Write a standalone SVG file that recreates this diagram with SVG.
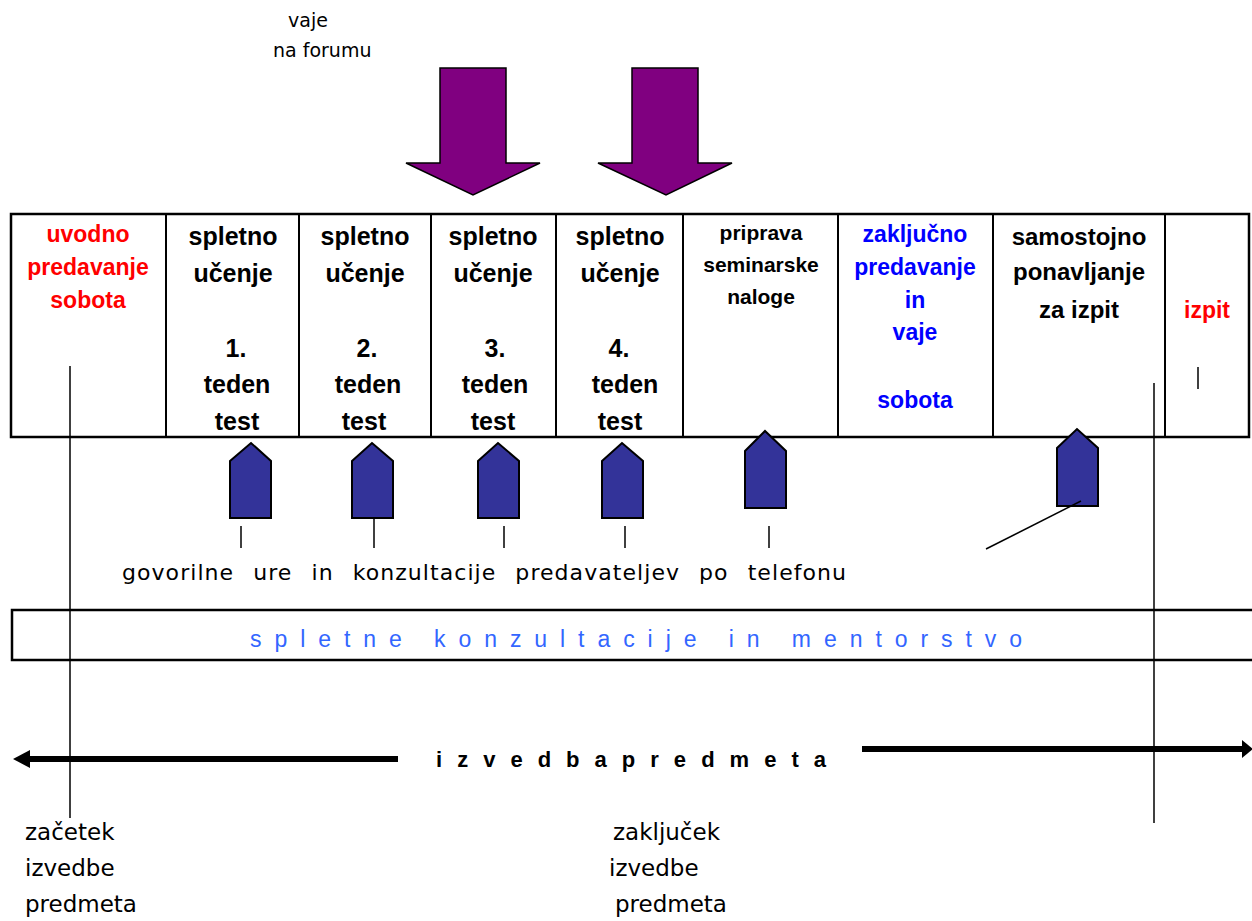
<svg xmlns="http://www.w3.org/2000/svg" width="1252" height="921" viewBox="0 0 1252 921">
  <style>
    .cell { fill: none; stroke: #000; stroke-width: 2.5; }
    .div { stroke: #000; stroke-width: 2; }
    .hd { font-family: "Liberation Sans", Arial, sans-serif; font-weight: bold; text-anchor: middle; }
    .b25 { font-size: 25px; fill: #000; }
    .red { font-size: 23px; fill: #ff0000; }
    .blue { font-size: 23px; fill: #0000ff; }
    .plain { font-family: "DejaVu Sans", Verdana, sans-serif; fill: #000; }
    .house { fill: #333399; stroke: #000; stroke-width: 2; stroke-linejoin: miter; }
    .down { fill: #800080; stroke: #000; stroke-width: 1.5; }
    .thin { stroke: #000; stroke-width: 1.5; fill: none; }
    .thick { stroke: #000; stroke-width: 6; fill: none; }
  </style>

  <!-- forum exercise label and the two downward arrows -->
  <g id="forum-label">
    <text class="plain" font-size="19" x="288" y="27">vaje</text>
    <text class="plain" font-size="19" x="273" y="57">na forumu</text>
  </g>
  <g id="forum-arrow-3">
    <polygon class="down" points="440,68 506,68 506,163 540,163 473,195 406,163 440,163"/>
  </g>
  <g id="forum-arrow-4">
    <polygon class="down" points="632,68 698,68 698,163 732,163 666,195 598,163 632,163"/>
  </g>

  <!-- timeline table -->
  <g id="timeline">
    <rect class="cell" x="11" y="214" width="1238" height="223"/>
    <line class="div" x1="166" y1="214" x2="166" y2="437"/>
    <line class="div" x1="299" y1="214" x2="299" y2="437"/>
    <line class="div" x1="431" y1="214" x2="431" y2="437"/>
    <line class="div" x1="556" y1="214" x2="556" y2="437"/>
    <line class="div" x1="683" y1="214" x2="683" y2="437"/>
    <line class="div" x1="838" y1="214" x2="838" y2="437"/>
    <line class="div" x1="993" y1="214" x2="993" y2="437"/>
    <line class="div" x1="1165" y1="214" x2="1165" y2="437"/>
  </g>

  <g id="cell-uvodno">
    <text class="hd red" x="88" y="242">uvodno</text>
    <text class="hd red" x="88" y="275">predavanje</text>
    <text class="hd red" x="88" y="308">sobota</text>
  </g>
  <g id="cell-teden-1">
    <text class="hd b25" x="233" y="245">spletno</text>
    <text class="hd b25" x="233" y="282">učenje</text>
    <text class="hd b25" x="236" y="357">1.</text>
    <text class="hd b25" x="237" y="393">teden</text>
    <text class="hd b25" x="237" y="430">test</text>
  </g>
  <g id="cell-teden-2">
    <text class="hd b25" x="365" y="245">spletno</text>
    <text class="hd b25" x="365" y="282">učenje</text>
    <text class="hd b25" x="367" y="357">2.</text>
    <text class="hd b25" x="368" y="393">teden</text>
    <text class="hd b25" x="364" y="430">test</text>
  </g>
  <g id="cell-teden-3">
    <text class="hd b25" x="493" y="245">spletno</text>
    <text class="hd b25" x="493" y="282">učenje</text>
    <text class="hd b25" x="495" y="357">3.</text>
    <text class="hd b25" x="495" y="393">teden</text>
    <text class="hd b25" x="493" y="430">test</text>
  </g>
  <g id="cell-teden-4">
    <text class="hd b25" x="620" y="245">spletno</text>
    <text class="hd b25" x="620" y="282">učenje</text>
    <text class="hd b25" x="619" y="357">4.</text>
    <text class="hd b25" x="625" y="393">teden</text>
    <text class="hd b25" x="620" y="430">test</text>
  </g>
  <g id="cell-seminarska">
    <text class="hd" font-size="21" x="761" y="240">priprava</text>
    <text class="hd" font-size="21" x="761" y="272">seminarske</text>
    <text class="hd" font-size="21" x="761" y="304">naloge</text>
  </g>
  <g id="cell-zakljucno">
    <text class="hd blue" x="915" y="242">zaključno</text>
    <text class="hd blue" x="915" y="275">predavanje</text>
    <text class="hd blue" x="915" y="308">in</text>
    <text class="hd blue" x="915" y="340">vaje</text>
    <text class="hd blue" x="915" y="408">sobota</text>
  </g>
  <g id="cell-ponavljanje">
    <text class="hd" font-size="24" x="1079" y="245">samostojno</text>
    <text class="hd" font-size="24" x="1079" y="280">ponavljanje</text>
    <text class="hd" font-size="24" x="1079" y="318">za izpit</text>
  </g>
  <g id="cell-izpit">
    <text class="hd red" font-size="24" x="1207" y="318">izpit</text>
    <line class="thin" x1="1198" y1="367" x2="1198" y2="389"/>
  </g>

  <!-- consultation markers -->
  <g id="consult-1"><polygon class="house" points="230,461 251,443 271,461 271,518 230,518"/></g>
  <g id="consult-2"><polygon class="house" points="352,461 372,443 393,461 393,518 352,518"/></g>
  <g id="consult-3"><polygon class="house" points="478,461 498,443 519,461 519,518 478,518"/></g>
  <g id="consult-4"><polygon class="house" points="602,461 622,443 643,461 643,518 602,518"/></g>
  <g id="consult-5"><polygon class="house" points="745,451 765,431 786,451 786,508 745,508"/></g>
  <g id="consult-6"><polygon class="house" points="1057,448 1077,429 1098,448 1098,506 1057,506"/></g>

  <g id="phone-label">
    <text class="plain" font-size="22" x="122" y="580" word-spacing="11" textLength="724" lengthAdjust="spacing">govorilne ure in konzultacije predavateljev po telefonu</text>
  </g>

  <!-- online consultation band -->
  <g id="mentorstvo">
    <rect class="cell" x="12" y="610" width="1260" height="50"/>
    <text font-family="Liberation Sans, Arial, sans-serif" font-size="23" fill="#3366ff" x="250" y="647" textLength="772" lengthAdjust="spacing">spletne konzultacije in mentorstvo</text>
  </g>

  <g id="izvedba-label">
    <text font-family="Liberation Sans, Arial, sans-serif" font-weight="bold" font-size="22" fill="#000" x="436" y="767" word-spacing="2" textLength="390" lengthAdjust="spacing">i z v e d b a  p r e d m e t a</text>
  </g>

  <g id="start-label">
    <text class="plain" font-size="23" x="25" y="840">začetek</text>
    <text class="plain" font-size="23" x="25" y="876">izvedbe</text>
    <text class="plain" font-size="23" x="25" y="912">predmeta</text>
  </g>
  <g id="end-label">
    <text class="plain" font-size="23" x="613" y="840">zaključek</text>
    <text class="plain" font-size="23" x="609" y="876">izvedbe</text>
    <text class="plain" font-size="23" x="615" y="912">predmeta</text>
  </g>

  <!-- connectors -->
  <g id="connectors">
    <line class="thin" x1="70" y1="366" x2="70" y2="818"/>
    <line class="thin" x1="1154" y1="383" x2="1154" y2="823"/>
    <line class="thin" x1="241" y1="526" x2="241" y2="548"/>
    <line class="thin" x1="374" y1="519" x2="374" y2="548"/>
    <line class="thin" x1="504" y1="526" x2="504" y2="548"/>
    <line class="thin" x1="625" y1="526" x2="625" y2="548"/>
    <line class="thin" x1="769" y1="526" x2="769" y2="548"/>
    <line class="thin" x1="1081" y1="501" x2="986" y2="549"/>
    <line class="thick" x1="28" y1="759" x2="398" y2="759"/>
    <polygon fill="#000" points="13,759 30,750 30,768"/>
    <line class="thick" x1="862" y1="749" x2="1244" y2="749"/>
    <polygon fill="#000" points="1242,740 1253,749 1242,758"/>
  </g>
</svg>
